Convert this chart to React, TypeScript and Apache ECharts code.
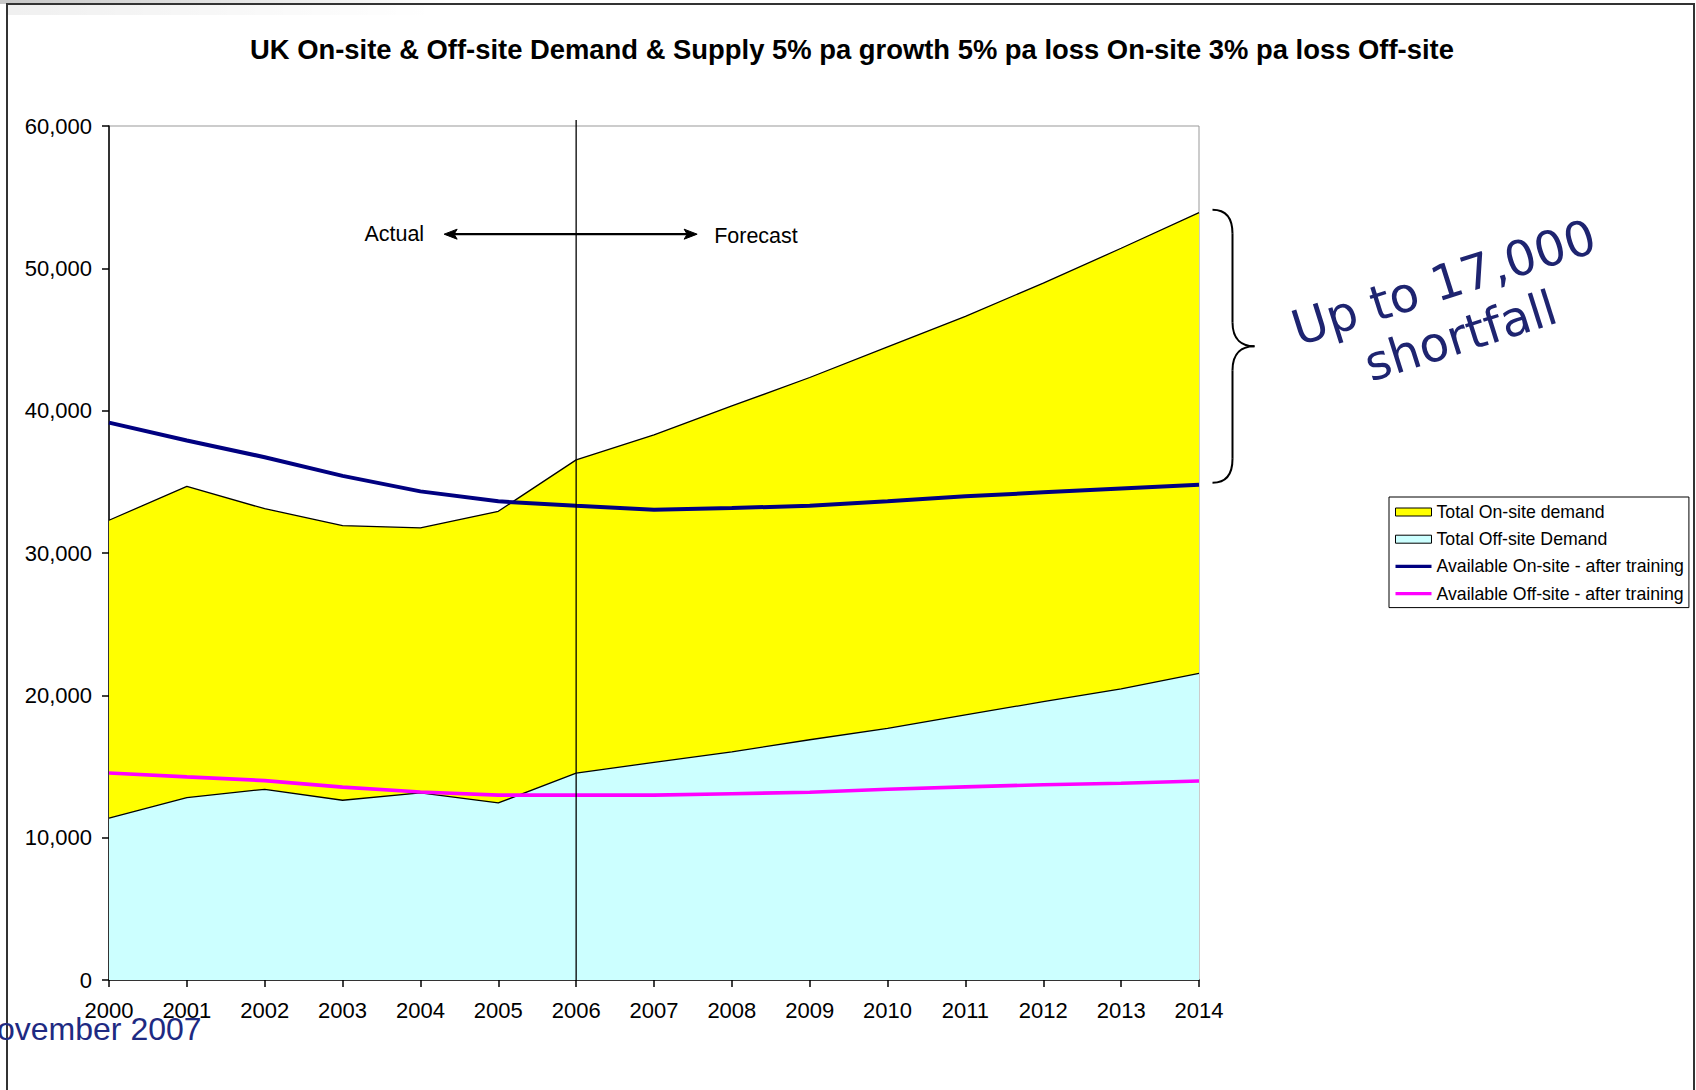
import React, { useEffect, useRef } from "react";
import * as echarts from "echarts";

const titleText =
  "UK On-site & Off-site Demand & Supply 5% pa growth 5% pa loss On-site 3% pa loss Off-site";

const years = ["2000", "2001", "2002", "2003", "2004", "2005", "2006", "2007", "2008", "2009", "2010", "2011", "2012", "2013", "2014"];

const onsiteDemand = [32300, 34680, 33110, 31920, 31760, 32930, 36540, 38300, 40330, 42330, 44480, 46630, 48960, 51410, 53910];
const offsiteDemand = [11380, 12820, 13400, 12630, 13140, 12440, 14540, 15290, 16030, 16880, 17680, 18620, 19560, 20450, 21550];
const availableOnsite = [39160, 37900, 36730, 35420, 34330, 33630, 33320, 33040, 33160, 33320, 33630, 33980, 34260, 34540, 34790];
const availableOffsite = [14540, 14270, 14010, 13550, 13210, 12990, 12990, 12990, 13090, 13190, 13400, 13570, 13720, 13820, 13980];

const seriesNames = [
  "Total On-site demand",
  "Total Off-site Demand",
  "Available On-site - after training",
  "Available Off-site - after training",
];

const yMin = 0;
const yMax = 60000;
const yStep = 10000;
const forecastStart = "2006";
const arrowLevel = 52400;

export default function App() {
  const ref = useRef<HTMLDivElement>(null);

  useEffect(() => {
    const chart = echarts.init(ref.current!, null, { renderer: "svg" });
    const font = "'Liberation Sans', Arial, sans-serif";
    const lineIcon = "path://M0,0L0.01,0M0,2.3L36,2.3L36,5.7L0,5.7ZM0,8L0.01,8";

    chart.setOption({
      animation: false,
      backgroundColor: "#ffffff",
      textStyle: { fontFamily: font },
      title: {
        text: titleText,
        left: 250,
        top: 36,
        padding: 0,
        textStyle: { fontSize: 27.4, fontWeight: "bold", color: "#000", fontFamily: font },
      },
      grid: {
        left: 109,
        top: 126,
        width: 1090,
        height: 854,
        show: true,
        borderColor: "#999",
        borderWidth: 1,
        backgroundColor: "transparent",
      },
      legend: {
        orient: "vertical",
        left: 1389,
        top: 497,
        padding: [6, 5, 5, 6],
        itemWidth: 36,
        itemHeight: 8,
        itemGap: 9.2,
        borderColor: "#000",
        borderWidth: 1,
        textStyle: { fontSize: 17.7, color: "#000", fontFamily: font, lineHeight: 17.5 },
        data: [
          { name: seriesNames[0], icon: "rect", itemStyle: { color: "#FFFF00", borderColor: "#000", borderWidth: 1 } },
          { name: seriesNames[1], icon: "rect", itemStyle: { color: "#CCFFFF", borderColor: "#000", borderWidth: 1 } },
          { name: seriesNames[2], icon: lineIcon, itemStyle: { color: "#000080", borderWidth: 0 } },
          { name: seriesNames[3], icon: lineIcon, itemStyle: { color: "#FF00FF", borderWidth: 0 } },
        ],
      },
      xAxis: {
        type: "category",
        data: years,
        boundaryGap: false,
        axisLine: { show: true, lineStyle: { color: "#000", width: 1.5 } },
        axisTick: { show: true, inside: false, length: 7, lineStyle: { color: "#000", width: 1.5 } },
        axisLabel: { fontSize: 22, color: "#000", margin: 19.5, fontFamily: font },
        splitLine: { show: false },
      },
      yAxis: {
        type: "value",
        min: yMin,
        max: yMax,
        interval: yStep,
        axisLine: { show: true, lineStyle: { color: "#000", width: 1.5 } },
        axisTick: { show: true, inside: false, length: 7, lineStyle: { color: "#000", width: 1.5 } },
        axisLabel: {
          fontSize: 22,
          color: "#000",
          margin: 17,
          fontFamily: font,
          formatter: (v: number) => v.toLocaleString("en-US"),
        },
        splitLine: { show: false },
      },
      series: [
        {
          name: seriesNames[0],
          type: "line",
          data: onsiteDemand,
          symbol: "none",
          itemStyle: { color: "#FFFF00" },
          lineStyle: { color: "#000", width: 1.3 },
          areaStyle: { color: "#FFFF00", opacity: 1 },
          z: 1,
        },
        {
          name: seriesNames[1],
          type: "line",
          data: offsiteDemand,
          symbol: "none",
          itemStyle: { color: "#CCFFFF" },
          lineStyle: { color: "#000", width: 1.3 },
          areaStyle: { color: "#CCFFFF", opacity: 1 },
          z: 1,
        },
        {
          name: seriesNames[2],
          type: "line",
          data: availableOnsite,
          symbol: "none",
          itemStyle: { color: "#000080" },
          lineStyle: { color: "#000080", width: 4 },
          z: 3,
        },
        {
          name: seriesNames[3],
          type: "line",
          data: availableOffsite,
          symbol: "none",
          itemStyle: { color: "#FF00FF" },
          lineStyle: { color: "#FF00FF", width: 3.6 },
          z: 3,
        },
      ],
    });

    const x06 = chart.convertToPixel({ xAxisIndex: 0 }, forecastStart) as number;
    const yTop = chart.convertToPixel({ yAxisIndex: 0 }, yMax) as number;
    const yZero = chart.convertToPixel({ yAxisIndex: 0 }, yMin) as number;
    const yA = chart.convertToPixel({ yAxisIndex: 0 }, arrowLevel) as number;
    const last = years.length - 1;
    const pDem = chart.convertToPixel({ gridIndex: 0 }, [last, onsiteDemand[last]]) as number[];
    const pAv = chart.convertToPixel({ gridIndex: 0 }, [last, availableOnsite[last]]) as number[];

    const T = pDem[1] - 3;
    const B = pAv[1] - 2;
    const M = (T + B) / 2;
    const L = pDem[0] + 13.5;
    const C = pDem[0] + 33.5;
    const R = pDem[0] + 55.5;
    const braceStyle = { stroke: "#000", lineWidth: 2, fill: "none" };
    const ax = x06 + 2;

    chart.setOption({
      graphic: [
        {
          type: "rect",
          shape: { x: 0, y: 0, width: 450, height: 4 },
          style: {
            fill: new echarts.graphic.LinearGradient(0, 0, 1, 0, [
              { offset: 0, color: "rgba(0,0,0,0.22)" },
              { offset: 1, color: "rgba(0,0,0,0)" },
            ]),
          },
          z: 50,
        },
        {
          type: "rect",
          shape: { x: 8, y: 5, width: 430, height: 10 },
          style: {
            fill: new echarts.graphic.LinearGradient(0, 0, 1, 0, [
              { offset: 0, color: "rgba(0,0,0,0.06)" },
              { offset: 1, color: "rgba(0,0,0,0)" },
            ]),
          },
          z: 50,
        },
        {
          type: "polyline",
          shape: { points: [[7, 1090], [7, 4], [1694, 4], [1694, 1090]] },
          style: { stroke: "#333", lineWidth: 2, fill: "none" },
          z: 60,
        },
        {
          type: "line",
          shape: { x1: x06, y1: yTop - 6, x2: x06, y2: yZero },
          style: { stroke: "#000", lineWidth: 1.3 },
          z: 100,
        },
        {
          type: "line",
          shape: { x1: ax - 128, y1: yA, x2: ax + 112, y2: yA },
          style: { stroke: "#000", lineWidth: 2.2 },
          z: 100,
        },
        {
          type: "polygon",
          shape: { points: [[ax - 134, yA], [ax - 121, yA - 5], [ax - 124, yA], [ax - 121, yA + 5]] },
          style: { fill: "#000", stroke: "#000", lineWidth: 1 },
          z: 100,
        },
        {
          type: "polygon",
          shape: { points: [[ax + 119, yA], [ax + 106, yA - 5], [ax + 109, yA], [ax + 106, yA + 5]] },
          style: { fill: "#000", stroke: "#000", lineWidth: 1 },
          z: 100,
        },
        {
          type: "text",
          x: x06 - 152,
          y: yA,
          style: { text: "Actual", fontSize: 21.5, fontFamily: font, fill: "#000", align: "right", verticalAlign: "middle" },
          z: 100,
        },
        {
          type: "text",
          x: x06 + 138,
          y: yA + 2,
          style: { text: "Forecast", fontSize: 21.5, fontFamily: font, fill: "#000", align: "left", verticalAlign: "middle" },
          z: 100,
        },
        { type: "bezierCurve", shape: { x1: L, y1: T, cpx1: L + 14, cpy1: T, cpx2: C, cpy2: T + 8, x2: C, y2: T + 24 }, style: braceStyle, z: 100 },
        { type: "line", shape: { x1: C, y1: T + 24, x2: C, y2: M - 24 }, style: braceStyle, z: 100 },
        { type: "bezierCurve", shape: { x1: C, y1: M - 24, cpx1: C, cpy1: M - 6, cpx2: C + 10, cpy2: M, x2: R, y2: M }, style: braceStyle, z: 100 },
        { type: "bezierCurve", shape: { x1: R, y1: M, cpx1: C + 10, cpy1: M, cpx2: C, cpy2: M + 6, x2: C, y2: M + 24 }, style: braceStyle, z: 100 },
        { type: "line", shape: { x1: C, y1: M + 24, x2: C, y2: B - 24 }, style: braceStyle, z: 100 },
        { type: "bezierCurve", shape: { x1: C, y1: B - 24, cpx1: C, cpy1: B - 8, cpx2: L + 14, cpy2: B, x2: L, y2: B }, style: braceStyle, z: 100 },
        {
          type: "text",
          x: 1452,
          y: 309,
          rotation: (17.5 * Math.PI) / 180,
          style: {
            text: "Up to 17,000\nshortfall",
            fontSize: 48.5,
            fontFamily: "'DejaVu Sans', Verdana, sans-serif",
            fill: "#1E2470",
            align: "center",
            verticalAlign: "middle",
            lineHeight: 56,
          },
          z: 100,
        },
        {
          type: "text",
          x: -3,
          y: 1029,
          style: {
            text: "ovember 2007",
            fontSize: 32,
            fontFamily: font,
            fill: "#1E2A82",
            align: "left",
            verticalAlign: "middle",
          },
          z: 110,
        },
      ],
    });

    return () => {
      chart.dispose();
    };
  }, []);

  return (
    <div
      ref={ref}
      style={{ position: "absolute", left: 0, top: 0, width: 1696, height: 1090 }}
    />
  );
}
